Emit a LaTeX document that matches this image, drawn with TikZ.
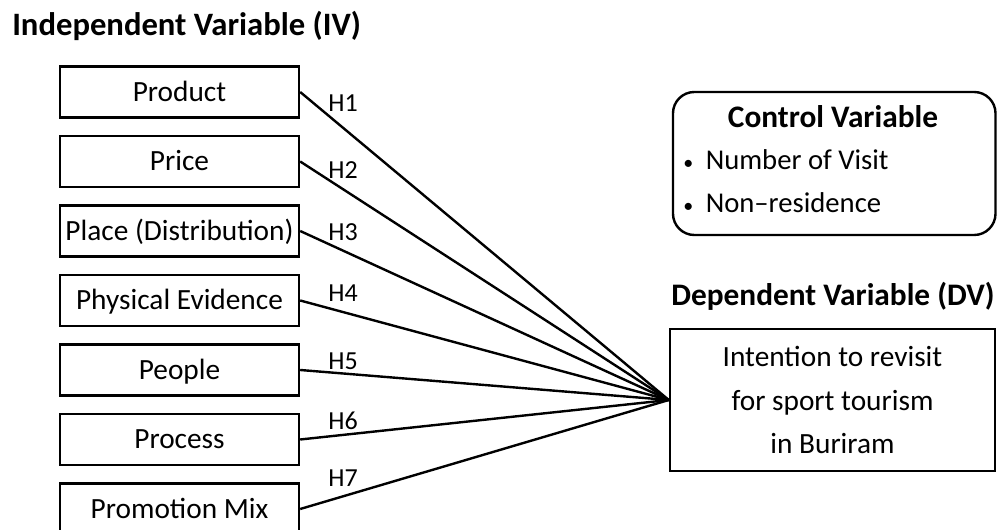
\documentclass[tikz,border=0pt]{standalone}
\usepackage{fontspec}
\setmainfont{Carlito}
\usetikzlibrary{positioning}

\tikzset{
  varbox/.style={draw, rectangle, line width=1.8pt, minimum width=179.25pt, minimum height=38.25pt,
    inner sep=0pt, font=\fontsize{22}{26}\selectfont, text height=16.5pt, text depth=2.3pt},
  dvbox/.style={draw, rectangle, line width=1.8pt, minimum width=243.75pt, minimum height=106.5pt,
    inner sep=0pt, align=center, font=\fontsize{22}{32.6}\selectfont},
  ctrlbox/.style={draw, rectangle, rounded corners=16pt, line width=1.8pt, minimum width=241.9pt,
    minimum height=107.25pt, inner sep=0pt},
  heading/.style={inner sep=0pt, font=\fontsize{23.5}{28}\selectfont\bfseries},
  item/.style={inner sep=0pt, font=\fontsize{21.5}{26}\selectfont},
  hyp/.style={inner sep=0pt, font=\fontsize{19.5}{22}\selectfont},
  link/.style={line width=1.8pt}
}
\newcommand{\dotmark}{{\fontsize{15}{15}\selectfont•}\hspace{9.4pt}}

\begin{document}
\begin{tikzpicture}[x=0.75pt, y=-0.75pt, node distance=52.125pt]
                \useasboundingbox (0,0) rectangle (997,530);
                \clip (0,0) rectangle (997,530);

                % independent variables
                \node[heading, anchor=base west, font=\fontsize{24.5}{28}\selectfont\bfseries] (ivtitle) at (12,36) {Independent Variable (IV)};
                \node[varbox] (product) at (179.5,92) {Product};
                \node[varbox] (price) [below of=product] {Price};
                \node[varbox] (place) [below of=price] {Place (Distribution)};
                \node[varbox] (evidence) [below of=place] {Physical Evidence};
                \node[varbox] (people) [below of=evidence] {People};
                \node[varbox] (process) [below of=people] {Process};
                \node[varbox] (promo) [below of=process] {Promotion Mix};

                % control variable
                \node[ctrlbox] (ctrl) at (834.25,163.5) {};
                \node[heading, anchor=base] (ctrltitle) at (833,128) {Control Variable};
                \node[item, anchor=base west] (visit) at (683,170) {\dotmark Number of Visit};
                \node[item, anchor=base west] (nonres) at (683,213) {\dotmark Non--residence};

                % dependent variable
                \node[heading, anchor=base] (dvtitle) at (833,306) {Dependent Variable (DV)};
                \node[dvbox] (dv) at (832.5,400) {Intention to revisit\\for sport tourism\\in Buriram};

                % hypotheses
                \node[hyp] (h1) at (343,103) {H1};
                \node[hyp] (h2) at (343,170) {H2};
                \node[hyp] (h3) at (343,232) {H3};
                \node[hyp] (h4) at (343,293) {H4};
                \node[hyp] (h5) at (343,361) {H5};
                \node[hyp] (h6) at (343,421) {H6};
                \node[hyp] (h7) at (343,478) {H7};

                \draw[link]
                (product.east) edge (dv.west)
                (price.east) edge (dv.west)
                (place.east) edge (dv.west)
                (evidence.east) edge (dv.west)
                (people.east) edge (dv.west)
                (process.east) edge (dv.west)
                (promo.east) edge (dv.west);
            \end{tikzpicture}
\end{document}
